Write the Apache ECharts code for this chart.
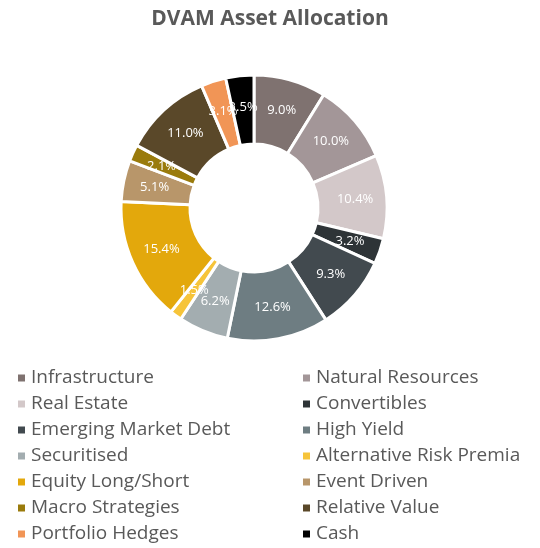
<!DOCTYPE html>
<html>
<head>
<meta charset="utf-8">
<script src="https://cdn.jsdelivr.net/npm/echarts@6/dist/echarts.min.js"></script>
<style>
  html, body { margin: 0; padding: 0; background: #fff; }
  #chart1 { width: 540px; height: 548px; }
</style>
</head>
<body>
<div id="chart1"></div>
<script>
var categories = [
    'Infrastructure', 'Natural Resources', 'Real Estate', 'Convertibles',
    'Emerging Market Debt', 'High Yield', 'Securitised', 'Alternative Risk Premia',
    'Equity Long/Short', 'Event Driven', 'Macro Strategies', 'Relative Value',
    'Portfolio Hedges', 'Cash'
];
var values = [9.0, 10.0, 10.4, 3.2, 9.3, 12.6, 6.2, 1.5, 15.4, 5.1, 2.1, 11.0, 3.1, 3.5];
var colors = [
    '#7f7270', '#a39698', '#d3c8c9', '#2e3437', '#424a4f', '#6e7d82', '#a3adb0',
    '#f6c43a', '#e3a80c', '#b8966a', '#9a7b0c', '#5a4829', '#f19556', '#000000'
];

var data = categories.map(function (e, i) {
    return {name: e, value: values[i], itemStyle: {color: colors[i]}};
});
// legend is two columns: even items left, odd items right
var leftNames = categories.filter(function (e, i) { return i % 2 === 0; });
var rightNames = categories.filter(function (e, i) { return i % 2 === 1; });

var legendText = {
    fontFamily: 'Open Sans',
    fontSize: 19,
    color: '#595959',
    lineHeight: 20
};

var myChart = echarts.init(document.getElementById('chart1'));
var option = {
    animation: false,
    title: {
        text: 'DVAM Asset Allocation',
        left: 'center',
        top: 4,
        textStyle: {
            fontFamily: 'Open Sans',
            fontSize: 21,
            fontWeight: 'bold',
            color: '#595959'
        }
    },
    legend: [
        {
            orient: 'vertical',
            left: 16,
            top: 368,
            padding: 0,
            icon: 'rect',
            itemWidth: 9,
            itemHeight: 9,
            itemGap: 6,
            data: leftNames,
            textStyle: legendText
        },
        {
            orient: 'vertical',
            left: 301,
            top: 368,
            padding: 0,
            icon: 'rect',
            itemWidth: 9,
            itemHeight: 9,
            itemGap: 6,
            data: rightNames,
            textStyle: legendText
        }
    ],
    series: [
        {
            name: 'DVAM Asset Allocation',
            type: 'pie',
            center: [254, 208],
            radius: [64, 133],
            startAngle: 90,
            clockwise: true,
            avoidLabelOverlap: false,
            minShowLabelAngle: 0,
            data: data,
            itemStyle: {
                borderColor: '#ffffff',
                borderWidth: 3
            },
            label: {
                show: true,
                position: 'inside',
                formatter: function (p) { return p.value.toFixed(1) + '%'; },
                color: '#ffffff',
                fontFamily: 'Open Sans',
                fontSize: 13
            },
            labelLayout: {hideOverlap: false},
            labelLine: {show: false}
        }
    ]
};

myChart.setOption(option);
</script>
</body>
</html>
